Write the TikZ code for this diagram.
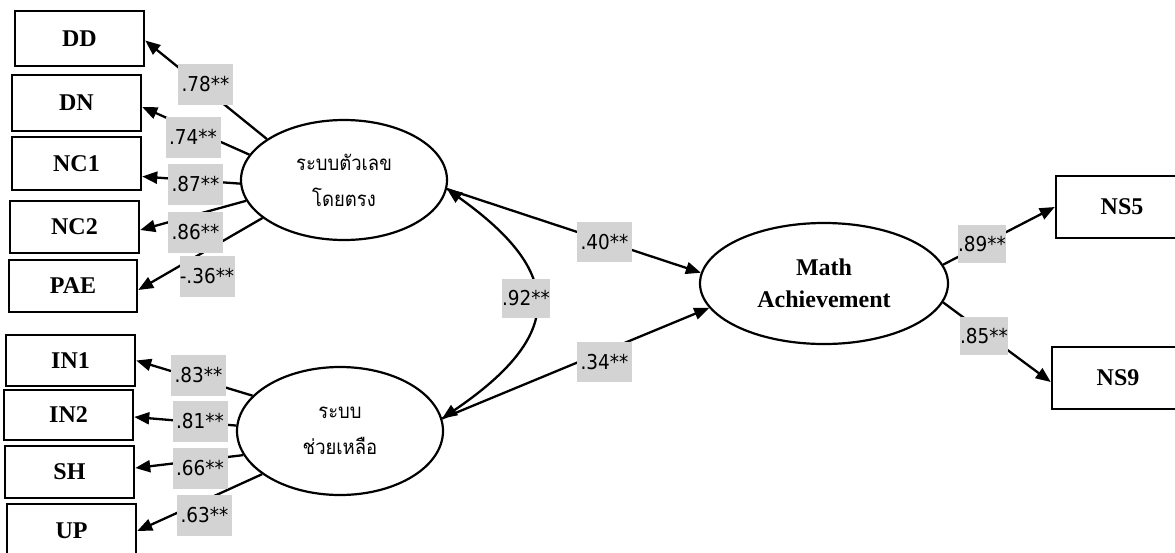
\documentclass[tikz,border=0pt]{standalone}
\usepackage{fontspec}
\setmainfont{Liberation Serif}
\newfontfamily\thaifont[Script=Thai,FakeStretch=0.9]{Loma}
\newfontfamily\coeffont[FakeStretch=0.9]{DejaVu Sans}
\usetikzlibrary{arrows.meta,shapes.geometric,calc}
\definecolor{coefgray}{RGB}{211,211,211}

\begin{document}
\begin{tikzpicture}[x=1pt,y=-1pt,
  obs/.style={draw,line width=2.5pt,rectangle,inner sep=0pt,
    font=\fontsize{24}{28}\selectfont\bfseries},
  lat/.style={draw,line width=2.2pt,ellipse,inner sep=0pt,align=center},
  thaitext/.style={font=\thaifont\fontsize{20.5}{36}\selectfont},
  load/.style={line width=2.3pt,-{Triangle[length=15pt,width=12pt]}},
  cov/.style={line width=2.3pt,{Triangle[length=15pt,width=12pt]}-{Triangle[length=15pt,width=12pt]}},
  coef/.style={fill=coefgray,inner sep=0pt,minimum height=41pt,minimum width=55pt,
    font=\coeffont\fontsize{20.5}{24}\selectfont},
]
\useasboundingbox (0,0) rectangle (1175,552);
\clip (0,0) rectangle (1175,552);

% observed indicators, left column
\node[obs,minimum width=129pt,minimum height=55pt] (DD)  at (79.5,38.5) {DD};
\node[obs,minimum width=129pt,minimum height=56pt] (DN)  at (76.5,103) {DN};
\node[obs,minimum width=129pt,minimum height=53pt] (NC1) at (76.5,163.5) {NC1};
\node[obs,minimum width=129pt,minimum height=52pt] (NC2) at (74.5,227) {NC2};
\node[obs,minimum width=128pt,minimum height=52pt] (PAE) at (73,286) {PAE};
\node[obs,minimum width=129pt,minimum height=51pt] (IN1) at (70.5,360.5) {IN1};
\node[obs,minimum width=129pt,minimum height=50pt] (IN2) at (68.5,415) {IN2};
\node[obs,minimum width=129pt,minimum height=52pt] (SH)  at (69.5,472) {SH};
\node[obs,minimum width=129pt,minimum height=54pt] (UP)  at (71.5,531) {UP};

% observed indicators, right column
\node[obs,minimum width=132pt,minimum height=62pt] (NS5) at (1122,207) {NS5};
\node[obs,minimum width=132pt,minimum height=62pt] (NS9) at (1118,378) {NS9};

% latent variables
\node[lat,thaitext,minimum width=206pt,minimum height=120pt] (e1) at (344,180)
  {ระบบตัวเลข\\โดยตรง};
\node[lat,thaitext,minimum width=206pt,minimum height=128pt] (e2) at (340,431)
  {ระบบ\\ช่วยเหลือ};
\node[lat,minimum width=248pt,minimum height=121pt,
  font=\fontsize{24}{32}\selectfont\bfseries] (ma) at (824,283.5)
  {Math\\Achievement};

% loadings of the first factor
\draw[load] (e1.152) -- ($(DD.east)+(0,2)$);
\draw[load] (e1.165) -- ($(DN.east)+(0,4)$);
\draw[load] (e1.182) -- ($(NC1.east)+(0,13)$);
\draw[load] (e1.192) -- ($(NC2.east)+(0,3)$);
\draw[load] (e1.205) -- ($(PAE.east)+(0,4)$);

% loadings of the second factor
\draw[load] (e2.158) -- (IN1.east);
\draw[load] (e2.177) -- ($(IN2.east)+(0,2)$);
\draw[load] (e2.194) -- ($(SH.east)+(0,-4)$);
\draw[load] (e2.209) -- (UP.east);

% structural paths and factor covariance
\draw[load] (e1.-5) -- (ma.175);
\draw[load] (e2.7) -- (ma.192);
\draw[cov] (e1.-5) .. controls (565,273) and (565,335) .. (e2.7);

% loadings of the outcome
\draw[load] (ma.9.5) -- (NS5.west);
\draw[load] (ma.-9.5) -- ($(NS9.west)+(0,4)$);

% standardized coefficients
\node[coef] (c78) at (205.5,84.5) {.78**};
\node[coef] (c74) at (193,137) {.74**};
\node[coef] (c87) at (195.5,184.5) {.87**};
\node[coef] (c86) at (195.5,232.5) {.86**};
\node[coef] (c36) at (207,276.5) {-.36**};
\node[coef] (c83) at (198.5,375.5) {.83**};
\node[coef] (c81) at (200,421) {.81**};
\node[coef] (c66) at (200,468) {.66**};
\node[coef] (c63) at (204.5,515.5) {.63**};
\node[coef,minimum height=40pt] (c40) at (604.5,242) {.40**};
\node[coef,minimum width=48pt,minimum height=39pt] (c92) at (526,298.5) {.92**};
\node[coef,minimum height=40pt] (c34) at (604.5,362) {.34**};
\node[coef,minimum width=48pt,minimum height=38pt] (c89) at (982,244) {.89**};
\node[coef,minimum width=48pt,minimum height=38pt] (c85) at (984,336) {.85**};
\end{tikzpicture}
\end{document}
